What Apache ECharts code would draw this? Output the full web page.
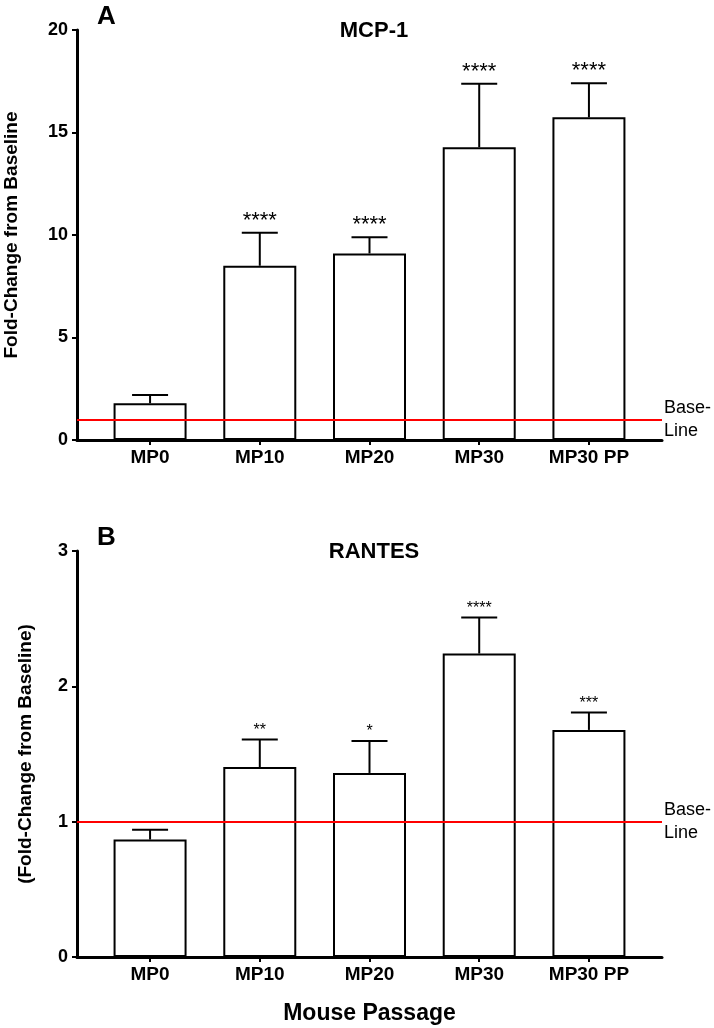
<!DOCTYPE html>
<html>
<head>
<meta charset="utf-8">
<script src="https://cdn.jsdelivr.net/npm/echarts@6/dist/echarts.min.js"></script>
<style>
html,body{margin:0;padding:0;background:#fff;}
#c{width:714px;height:1028px;}
</style>
</head>
<body>
<div id="c"></div>
<script>
const categories = ['MP0', 'MP10', 'MP20', 'MP30', 'MP30 PP'];
const mcpMean = [1.79, 8.50, 9.10, 14.28, 15.74];
const mcpUpper = [2.20, 10.11, 9.89, 17.38, 17.40];
const mcpStars = ['', '****', '****', '****', '****'];
const rantesMean = [0.868, 1.404, 1.36, 2.242, 1.678];
const rantesUpper = [0.94, 1.607, 1.596, 2.508, 1.806];
const rantesStars = ['', '**', '*', '****', '***'];
const mcpTicks = { min: 0, max: 20, interval: 5 };
const rantesTicks = { min: 0, max: 3, interval: 1 };
const baseline = 1;

const FONT = '"Liberation Sans", Arial, Helvetica, sans-serif';
const chart = echarts.init(document.getElementById('c'), null, { renderer: 'canvas' });
const catIdx = categories.map((_, i) => i);

function xAxisFor(gi, name) {
  return {
    type: 'value', gridIndex: gi, min: -0.666, max: 4.666,
    splitLine: { show: false },
    axisLine: { show: true, onZero: false, lineStyle: { color: '#000', width: 3 } },
    axisTick: { show: true, customValues: catIdx, length: 5, lineStyle: { color: '#000', width: 2 } },
    axisLabel: { show: true, customValues: catIdx, formatter: v => categories[Math.round(v)],
      color: '#000', fontFamily: FONT, fontWeight: 'bold', fontSize: 19, margin: 8 },
    name: name || '', nameLocation: 'middle', nameGap: 45,
    nameTextStyle: { color: '#000', fontFamily: FONT, fontWeight: 'bold', fontSize: 23 }
  };
}
function yAxisFor(gi, t, name, gap) {
  return {
    type: 'value', gridIndex: gi, min: t.min, max: t.max, interval: t.interval,
    splitLine: { show: false },
    axisLine: { show: true, onZero: false, lineStyle: { color: '#000', width: 3 } },
    axisTick: { show: true, length: 5, lineStyle: { color: '#000', width: 2 } },
    axisLabel: { color: '#000', fontFamily: FONT, fontWeight: 'bold', fontSize: 18, margin: 9 },
    name: name, nameLocation: 'middle', nameRotate: 90, nameGap: gap,
    nameTextStyle: { color: '#000', fontFamily: FONT, fontWeight: 'bold', fontSize: 19 }
  };
}
function barSeries(gi, means) {
  return {
    type: 'bar', xAxisIndex: gi, yAxisIndex: gi, barWidth: 73,
    data: means.map((v, i) => [i, v]),
    itemStyle: { color: '#fff', borderColor: '#000', borderWidth: 2 },
    silent: true,
    markLine: {
      silent: true, symbol: 'none',
      lineStyle: { color: '#ff0000', width: 2, type: 'solid' },
      label: { show: true, position: 'end', formatter: 'Base-\nLine', color: '#000',
        fontFamily: FONT, fontSize: 18, lineHeight: 23, align: 'left', distance: 2 },
      data: [{ yAxis: baseline }]
    }
  };
}
function errSeries(gi, means, uppers, stars, starSize, starGap) {
  return {
    type: 'custom', xAxisIndex: gi, yAxisIndex: gi, silent: true, z: 3,
    data: means.map((v, i) => [i, v, uppers[i], stars[i]]),
    renderItem: function (params, api) {
      const x = api.value(0);
      const p0 = api.coord([x, api.value(1)]);
      const p1 = api.coord([x, api.value(2)]);
      const cap = 18;
      return {
        type: 'group',
        children: [
          { type: 'line', shape: { x1: p0[0], y1: p0[1], x2: p1[0], y2: p1[1] }, style: { stroke: '#000', lineWidth: 2 } },
          { type: 'line', shape: { x1: p1[0] - cap, y1: p1[1], x2: p1[0] + cap, y2: p1[1] }, style: { stroke: '#000', lineWidth: 2 } },
          { type: 'text', style: { text: stars[params.dataIndex], x: p1[0], y: p1[1] - starGap,
              textAlign: 'center', textVerticalAlign: 'middle', fill: '#000', fontFamily: FONT, fontSize: starSize } }
        ]
      };
    }
  };
}

chart.setOption({
  animation: false,
  backgroundColor: '#fff',
  title: [
    { text: 'A', left: 97, top: 4, padding: 0, textStyle: { fontFamily: FONT, fontWeight: 'bold', fontSize: 26, color: '#000' } },
    { text: 'MCP-1', left: 369, top: 15, textAlign: 'center', textStyle: { fontFamily: FONT, fontWeight: 'bold', fontSize: 22, color: '#000' } },
    { text: 'B', left: 97, top: 525, padding: 0, textStyle: { fontFamily: FONT, fontWeight: 'bold', fontSize: 26, color: '#000' } },
    { text: 'RANTES', left: 369, top: 536, textAlign: 'center', textStyle: { fontFamily: FONT, fontWeight: 'bold', fontSize: 22, color: '#000' } }
  ],
  grid: [
    { left: 77, right: 52, top: 30, height: 410, containLabel: false, outerBoundsMode: 'none' },
    { left: 77, right: 52, top: 551, height: 406, containLabel: false, outerBoundsMode: 'none' }
  ],
  xAxis: [xAxisFor(0), xAxisFor(1, 'Mouse Passage')],
  yAxis: [yAxisFor(0, mcpTicks, 'Fold-Change from Baseline', 56), yAxisFor(1, rantesTicks, '(Fold-Change from Baseline)', 42)],
  series: [
    barSeries(0, mcpMean),
    errSeries(0, mcpMean, mcpUpper, mcpStars, 22, 12),
    barSeries(1, rantesMean),
    errSeries(1, rantesMean, rantesUpper, rantesStars, 16, 9)
  ]
});
</script>
</body>
</html>
